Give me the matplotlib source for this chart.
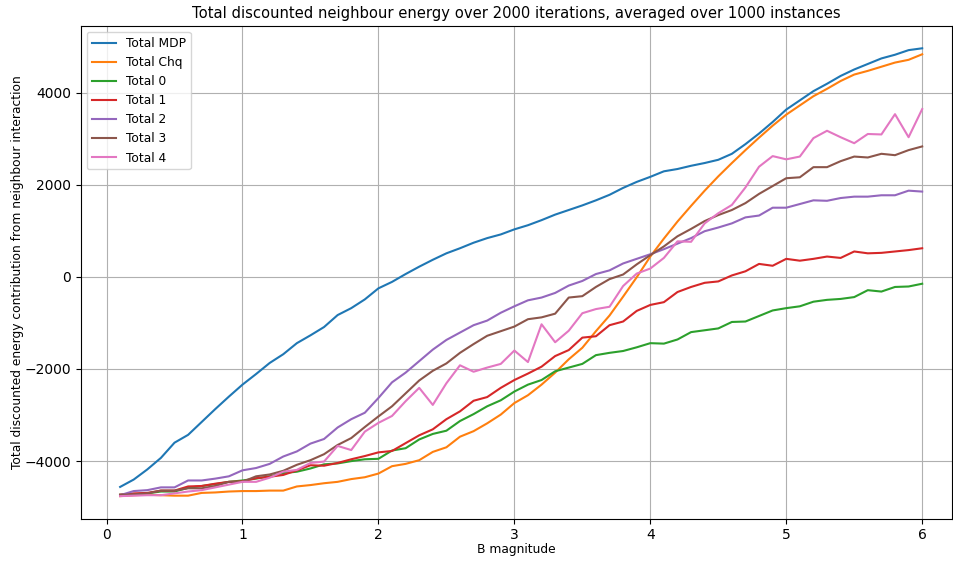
import numpy as np
import matplotlib
matplotlib.use("Agg")
import matplotlib.pyplot as plt

# B magnitude values
b = np.round(np.arange(1, 61) * 0.1, 1)

total_mdp = [-4560, -4400, -4180, -3930, -3600, -3430, -3150, -2870, -2600, -2340,
             -2110, -1870, -1680, -1440, -1270, -1090, -830, -680, -490, -250,
             -110, 60, 220, 370, 510, 620, 740, 840, 920, 1030,
             1120, 1230, 1350, 1450, 1550, 1660, 1780, 1930, 2060, 2170,
             2290, 2340, 2410, 2470, 2540, 2670, 2880, 3110, 3360, 3630,
             3830, 4030, 4190, 4360, 4500, 4620, 4740, 4820, 4920, 4960]
total_chq = [-4760, -4740, -4730, -4740, -4750, -4750, -4690, -4680, -4660, -4650,
             -4650, -4640, -4640, -4550, -4520, -4480, -4450, -4390, -4350, -4270,
             -4110, -4060, -3980, -3800, -3700, -3470, -3350, -3180, -2990, -2740,
             -2570, -2340, -2080, -1790, -1540, -1180, -840, -430, -10, 440,
             830, 1200, 1540, 1870, 2180, 2470, 2750, 3020, 3280, 3520,
             3720, 3920, 4080, 4250, 4390, 4470, 4560, 4650, 4710, 4830]
total_0 = [-4730, -4720, -4700, -4660, -4660, -4580, -4540, -4500, -4450, -4420,
           -4380, -4330, -4260, -4230, -4160, -4070, -4050, -4000, -3960, -3950,
           -3770, -3720, -3530, -3410, -3340, -3130, -2980, -2810, -2680, -2490,
           -2340, -2240, -2050, -1970, -1890, -1700, -1650, -1610, -1530, -1440,
           -1450, -1360, -1200, -1160, -1120, -980, -970, -850, -730, -680,
           -640, -540, -500, -480, -440, -290, -320, -220, -210, -150]
total_1 = [-4730, -4700, -4690, -4640, -4640, -4550, -4540, -4490, -4450, -4440,
           -4370, -4340, -4300, -4200, -4090, -4100, -4040, -3960, -3890, -3810,
           -3780, -3610, -3440, -3310, -3090, -2920, -2690, -2610, -2410, -2240,
           -2100, -1950, -1720, -1590, -1320, -1290, -1050, -970, -740, -610,
           -550, -330, -220, -130, -100, 30, 120, 280, 240, 390,
           350, 390, 440, 410, 550, 510, 520, 550, 580, 620]
total_2 = [-4740, -4650, -4630, -4570, -4570, -4420, -4420, -4380, -4330, -4200,
           -4150, -4060, -3900, -3790, -3620, -3520, -3270, -3090, -2950, -2630,
           -2290, -2080, -1830, -1580, -1370, -1210, -1050, -950, -780, -640,
           -510, -450, -350, -190, -90, 60, 140, 290, 390, 490,
           600, 720, 840, 990, 1070, 1160, 1290, 1330, 1500, 1500,
           1580, 1660, 1650, 1710, 1740, 1740, 1770, 1770, 1870, 1850]
total_3 = [-4730, -4720, -4700, -4640, -4640, -4590, -4590, -4540, -4450, -4450,
           -4330, -4290, -4210, -4080, -3980, -3850, -3650, -3500, -3260, -3030,
           -2810, -2530, -2250, -2040, -1880, -1650, -1460, -1280, -1180, -1080,
           -920, -880, -800, -450, -420, -220, -50, 50, 270, 470,
           660, 880, 1040, 1210, 1340, 1450, 1600, 1800, 1970, 2140,
           2160, 2380, 2380, 2510, 2610, 2590, 2670, 2640, 2750, 2830]
total_4 = [-4760, -4750, -4740, -4740, -4700, -4660, -4630, -4570, -4510, -4450,
           -4450, -4360, -4230, -4190, -4040, -4010, -3670, -3760, -3360, -3170,
           -3020, -2700, -2410, -2780, -2310, -1920, -2060, -1970, -1890, -1600,
           -1850, -1030, -1420, -1170, -790, -700, -650, -200, 70, 180,
           410, 770, 760, 1160, 1380, 1560, 1940, 2390, 2620, 2550,
           2610, 3010, 3170, 3030, 2900, 3100, 3090, 3530, 3030, 3640]

fig, ax = plt.subplots(figsize=(9.54, 5.63), dpi=100)
fig.subplots_adjust(left=0.0846, right=0.998, top=0.954, bottom=0.079)

ax.plot(b, total_mdp, label="Total MDP")
ax.plot(b, total_chq, label="Total Chq")
ax.plot(b, total_0, label="Total 0")
ax.plot(b, total_1, label="Total 1")
ax.plot(b, total_2, label="Total 2")
ax.plot(b, total_3, label="Total 3")
ax.plot(b, total_4, label="Total 4")

ax.set_xlim(-0.19, 6.22)
ax.set_xlabel("B magnitude", fontsize=8.8, labelpad=0.5)
ax.set_ylabel("Total discounted energy contribution from neighbour interaction", fontsize=8.8,
              labelpad=0.5)
ax.set_title("Total discounted neighbour energy over 2000 iterations, averaged over 1000 instances",
             fontsize=10.6)
ax.grid(True)
ax.legend(loc="upper left", fontsize=8.8)

plt.savefig("out.png")
